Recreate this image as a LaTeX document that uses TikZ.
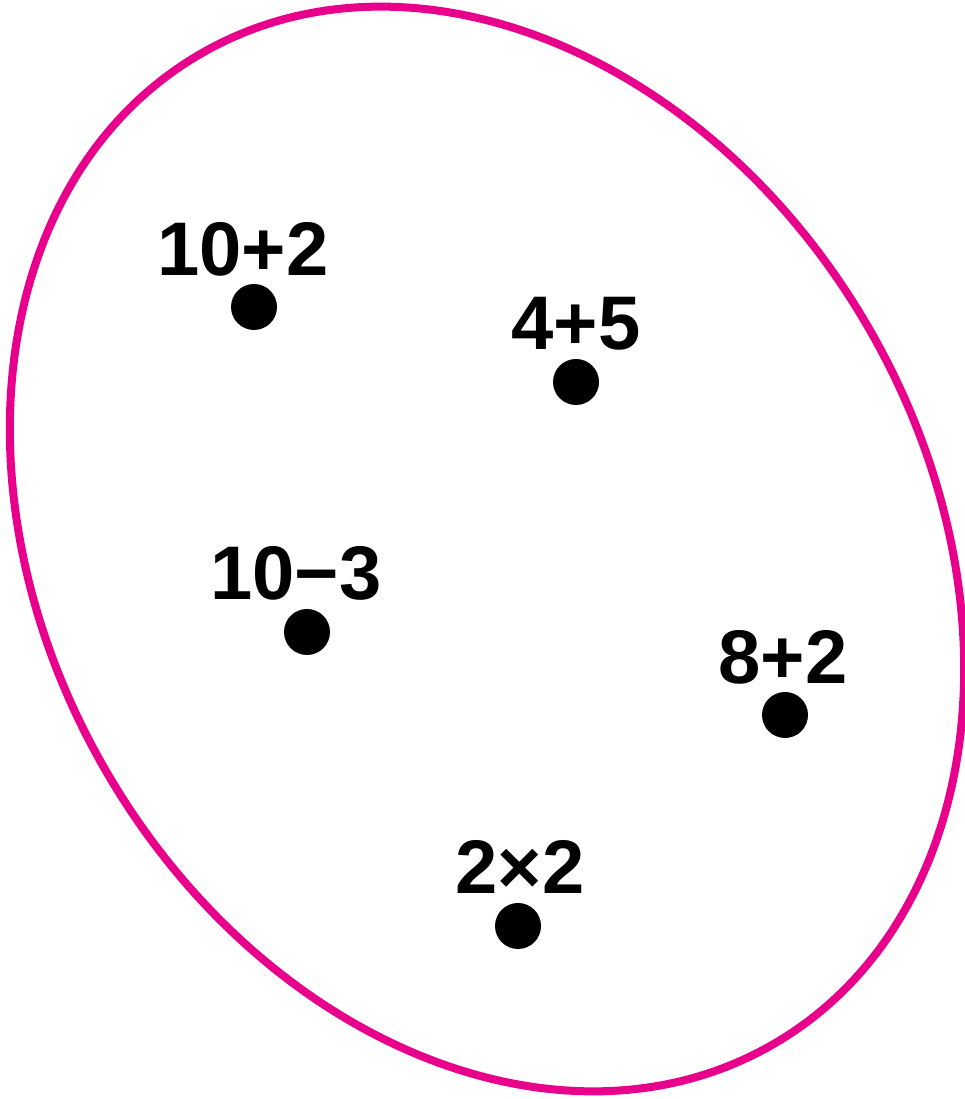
\documentclass[tikz,border=0pt]{standalone}
\usepackage{fontspec}
\setmainfont{Liberation Sans}
\definecolor{rim}{HTML}{E8008C}
\begin{document}
\begin{tikzpicture}[x=1pt,y=1pt,
  dot/.style={circle,fill=black,inner sep=0pt,minimum size=46pt},
  lab/.style={font=\fontsize{76}{80}\selectfont\bfseries,inner sep=0pt}]
\useasboundingbox (0,0) rectangle (965,1099);
\draw[rim,line width=8pt,rotate around={30:(487,550)}] (487,550) ellipse [x radius=441, y radius=572];
\node[dot] (d1) at (254,792) {};
\node[dot] (d2) at (576,717) {};
\node[dot] (d3) at (307,467) {};
\node[dot] (d4) at (785,384) {};
\node[dot] (d5) at (518,173) {};
\node[lab] (l1) at (243,850) {10+2};
\node[lab] (l2) at (576,775) {4+5};
\node[lab] (l3) at (296,526) {10−3};
\node[lab] (l4) at (783,442) {8+2};
\node[lab] (l5) at (520,232) {2×2};
\end{tikzpicture}
\end{document}
